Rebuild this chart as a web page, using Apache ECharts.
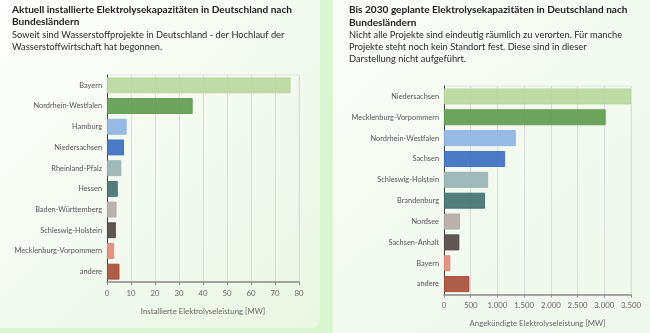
<!DOCTYPE html>
<html>
<head>
<meta charset="utf-8">
<script src="https://cdn.jsdelivr.net/npm/echarts@6/dist/echarts.min.js"></script>
<style>
html,body{margin:0;padding:0;width:650px;height:333px;overflow:hidden;background:#d8f6d0;}
#cardL{position:absolute;left:-10px;top:-10px;width:330px;height:338px;border-radius:8px;background:linear-gradient(135deg,#ffffff 0%,#f6fbf3 40%,#e9f7e3 100%);}
#cardR{position:absolute;left:333px;top:-10px;width:330px;height:360px;border-radius:8px;background:linear-gradient(135deg,#fbfdfa 0%,#f3faf0 50%,#eef8ea 100%);}
#chart{position:absolute;left:0;top:0;width:650px;height:333px;}
</style>
</head>
<body>
<div id="cardL"></div>
<div id="cardR"></div>
<div id="chart"></div>
<script>
const leftTitle = 'Aktuell installierte Elektrolysekapazitäten in Deutschland nach\nBundesländern';
const leftSubtitle = 'Soweit sind Wasserstoffprojekte in Deutschland - der Hochlauf der\nWasserstoffwirtschaft hat begonnen.';
const rightTitle = 'Bis 2030 geplante Elektrolysekapazitäten in Deutschland nach\nBundesländern';
const rightSubtitle = 'Nicht alle Projekte sind eindeutig räumlich zu verorten. Für manche\nProjekte steht noch kein Standort fest. Diese sind in dieser\nDarstellung nicht aufgeführt.';

const leftCategories = ['Bayern','Nordrhein-Westfalen','Hamburg','Niedersachsen','Rheinland-Pfalz','Hessen','Baden-Württemberg','Schleswig-Holstein','Mecklenburg-Vorpommern','andere'];
const leftValues = [76.5, 35.7, 8.2, 7.1, 6.0, 4.5, 4.0, 3.7, 3.0, 5.2];
const leftAxisName = 'Installierte Elektrolyseleistung [MW]';

const rightCategories = ['Niedersachsen','Mecklenburg-Vorpommern','Nordrhein-Westfalen','Sachsen','Schleswig-Holstein','Brandenburg','Nordsee','Sachsen-Anhalt','Bayern','andere'];
const rightValues = [3500, 3026, 1344, 1144, 826, 769, 300, 288, 120, 476];
const rightAxisName = 'Angekündigte Elektrolyseleistung [MW]';

const palette = ['#b9d69c','#5d9a4e','#8db3e2','#3a6cc0','#97b3b2','#3f6f6e','#b3a8a5','#4e4542','#e0887a','#a64b36'];

const FONT = 'Lato';

function dataWithColors(vals){
  return vals.map((v,i)=>({value:v,itemStyle:{color:palette[i],opacity:0.9,borderColor:palette[i],borderWidth:1}}));
}

function xAxisCfg(gridIndex, max, interval, name, fmt){
  return {
    type:'value', gridIndex, min:0, max, interval,
    name, nameLocation:'middle', nameGap:25,
    nameTextStyle:{fontFamily:FONT,fontSize:7.8,color:'#666'},
    axisLine:{show:true,lineStyle:{color:'#8a8a8a',width:1.5}},
    axisTick:{show:true,length:3,lineStyle:{color:'#8a8a8a'}},
    axisLabel:{fontFamily:FONT,fontSize:7.8,color:'#666',margin:7,formatter:fmt},
    splitLine:{show:true,lineStyle:{color:'#dcdcdc',width:1}}
  };
}
function yAxisCfg(gridIndex, cats){
  return {
    type:'category', gridIndex, data:cats, inverse:true,
    axisLine:{show:true,lineStyle:{color:'#444',width:1}},
    axisTick:{show:false},
    axisLabel:{fontFamily:FONT,fontSize:7.4,color:'#555',margin:5},
    splitLine:{show:false}
  };
}
const deFmt = v => v.toLocaleString('de-DE');

const chart = echarts.init(document.getElementById('chart'), null, {renderer:'canvas'});
chart.setOption({
  backgroundColor:'transparent',
  animation:false,
  title:[
    {text:leftTitle, subtext:leftSubtitle, left:12, top:3, itemGap:0.5, padding:0,
     textStyle:{fontFamily:FONT,fontSize:10.1,fontWeight:'bold',color:'#222',lineHeight:12.5},
     subtextStyle:{fontFamily:FONT,fontSize:9.3,color:'#2a2a2a',lineHeight:12}},
    {text:rightTitle, subtext:rightSubtitle, left:349, top:3.5, itemGap:0.5, padding:0,
     textStyle:{fontFamily:FONT,fontSize:10.1,fontWeight:'bold',color:'#222',lineHeight:12.5},
     subtextStyle:{fontFamily:FONT,fontSize:9.3,color:'#2a2a2a',lineHeight:12}}
  ],
  grid:[
    {left:107, right:351, top:75, bottom:51, show:true, borderColor:'#e4e4e4', borderWidth:1, backgroundColor:'transparent'},
    {left:444, right:19, top:86, bottom:38.5, show:true, borderColor:'#e4e4e4', borderWidth:1, backgroundColor:'transparent'}
  ],
  xAxis:[
    xAxisCfg(0, 80, 10, leftAxisName, v=>v),
    xAxisCfg(1, 3500, 500, rightAxisName, deFmt)
  ],
  yAxis:[
    yAxisCfg(0, leftCategories),
    yAxisCfg(1, rightCategories)
  ],
  series:[
    {type:'bar', xAxisIndex:0, yAxisIndex:0, data:dataWithColors(leftValues), barCategoryGap:'23%'},
    {type:'bar', xAxisIndex:1, yAxisIndex:1, data:dataWithColors(rightValues), barCategoryGap:'23%'}
  ]
});
</script>
</body>
</html>
